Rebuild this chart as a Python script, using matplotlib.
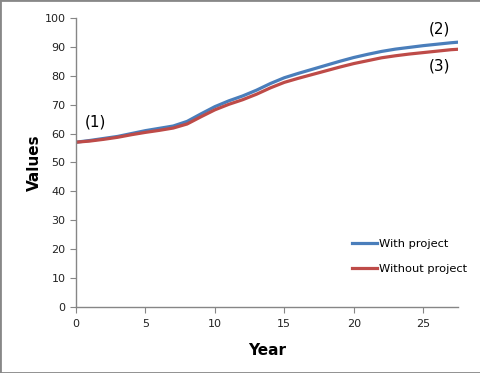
import matplotlib.pyplot as plt
from matplotlib.patches import Rectangle

years = list(range(0, 29))
with_project = [57.0, 57.6, 58.3, 59.0, 60.0, 61.0, 61.8, 62.6, 64.2, 66.8,
                69.3, 71.3, 73.0, 75.0, 77.3, 79.3, 80.8, 82.2, 83.6, 85.0,
                86.3, 87.4, 88.4, 89.2, 89.8, 90.4, 90.9, 91.4, 91.8]
without_project = [57.0, 57.4, 58.0, 58.7, 59.6, 60.4, 61.1, 61.9, 63.3, 65.8,
                   68.2, 70.1, 71.7, 73.6, 75.8, 77.7, 79.1, 80.4, 81.7, 83.0,
                   84.2, 85.2, 86.2, 86.9, 87.5, 88.0, 88.5, 89.0, 89.3]
labels = ['(1)', '(2)', '(3)']

fig = plt.figure(figsize=(4.81, 3.73), dpi=100)
ax = fig.add_axes([0.158, 0.177, 0.794, 0.775])

ax.plot(years, with_project, color='#4a7ebb', lw=2.3, label='With project')
ax.plot(years, without_project, color='#be4b48', lw=2.3, label='Without project')

ax.set_xlim(0, 27.5)
ax.set_ylim(0, 100)
ax.set_xticks(range(0, 30, 5))
ax.set_yticks(range(0, 101, 10))
for s in ['top', 'right']:
    ax.spines[s].set_visible(False)
for s in ['left', 'bottom']:
    ax.spines[s].set_color('#868686')
    ax.spines[s].set_linewidth(1)
ax.tick_params(direction='out', length=4, color='#868686', labelsize=8,
               labelcolor='#222222')
ax.tick_params(axis='x', pad=5)
ax.set_xlabel('Year', fontsize=11, fontweight='bold', labelpad=10)
ax.set_ylabel('Values', fontsize=11, fontweight='bold', labelpad=2)

ax.text(1.4, 64, labels[0], fontsize=11, ha='center', va='center')
ax.text(26.2, 96.3, labels[1], fontsize=11, ha='center', va='center')
ax.text(26.2, 83.2, labels[2], fontsize=11, ha='center', va='center')

ax.legend(loc='center left', bbox_to_anchor=(0.695, 0.175), frameon=False,
          fontsize=8.2, handlelength=2.2, handletextpad=0.2, labelspacing=1.25)

fig.patches.append(Rectangle((0, 0), 1, 1, transform=fig.transFigure,
                             fill=False, edgecolor='#888888', lw=2))
fig.savefig('out.png', dpi=100)
